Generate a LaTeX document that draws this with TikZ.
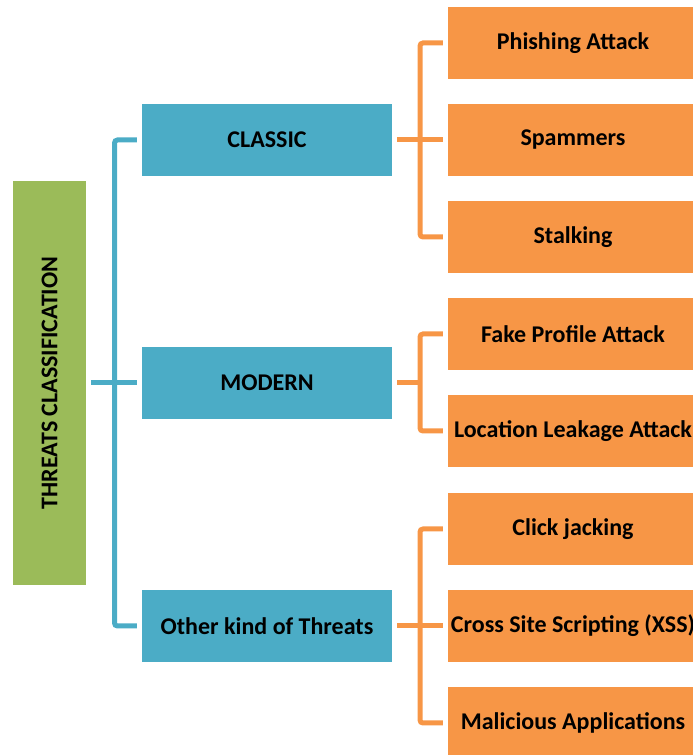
\documentclass[tikz,border=0pt]{standalone}
\usepackage{fontspec}
\setmainfont{Carlito}
\usepackage{tikz}
\usetikzlibrary{positioning}
\definecolor{mgreen}{HTML}{9BBB59}
\definecolor{mblue}{HTML}{4BACC6}
\definecolor{morange}{HTML}{F79646}

\begin{document}
\begin{tikzpicture}[x=1pt, y=1pt,
    every node/.style={font=\fontsize{24}{28}\selectfont\bfseries, inner sep=0pt},
    rootbox/.style={fill=mgreen, minimum width=404, minimum height=73, rotate=90},
    groupbox/.style={fill=mblue, minimum width=250, minimum height=72},
    leafbox/.style={fill=morange, minimum width=250, minimum height=72},
    blueline/.style={mblue, line width=5pt, rounded corners=3pt},
    orangeline/.style={morange, line width=5pt, rounded corners=3pt}]
    \useasboundingbox (0, 0) rectangle (693, 755);

    \node [rootbox] (root) at (49.5, 372) {THREATS CLASSIFICATION};

    \node [groupbox] (classic) at (267, 615) {CLASSIC};
    \node [groupbox] (modern) at (267, 372) {MODERN};
    \node [groupbox] (other) at (267, 129) {Other kind of Threats};

    \node [leafbox] (phishing) at (573, 712) {Phishing Attack};
    \node [leafbox] (spammers) at (573, 615) {Spammers};
    \node [leafbox] (stalking) at (573, 518) {Stalking};
    \node [leafbox] (fake) at (573, 421) {Fake Profile Attack};
    \node [leafbox] (location) at (573, 324) {Location Leakage Attack};
    \node [leafbox] (click) at (573, 226) {Click jacking};
    \node [leafbox] (xss) at (573, 129) {Cross Site Scripting (XSS)};
    \node [leafbox] (malicious) at (573, 32) {Malicious Applications};

    % buses
    \coordinate (rootbus) at (114.5, 372);
    \coordinate (classicbus) at (420, 615);
    \coordinate (modernbus) at (420, 372);
    \coordinate (otherbus) at (420, 129);

    \draw [blueline] ([xshift=5pt]root.south) -- ([xshift=-5pt]modern.west);
    \draw [blueline] ([xshift=-5pt]classic.west) -| (rootbus) |- ([xshift=-5pt]other.west);

    \draw [orangeline] ([xshift=5pt]classic.east) -- ([xshift=-5pt]spammers.west);
    \draw [orangeline] ([xshift=-5pt]phishing.west) -| (classicbus) |- ([xshift=-5pt]stalking.west);

    \draw [orangeline] ([xshift=5pt]modern.east) -- (modernbus);
    \draw [orangeline] ([xshift=-5pt]fake.west) -| (modernbus) |- ([xshift=-5pt]location.west);

    \draw [orangeline] ([xshift=5pt]other.east) -- ([xshift=-5pt]xss.west);
    \draw [orangeline] ([xshift=-5pt]click.west) -| (otherbus) |- ([xshift=-5pt]malicious.west);
\end{tikzpicture}
\end{document}
